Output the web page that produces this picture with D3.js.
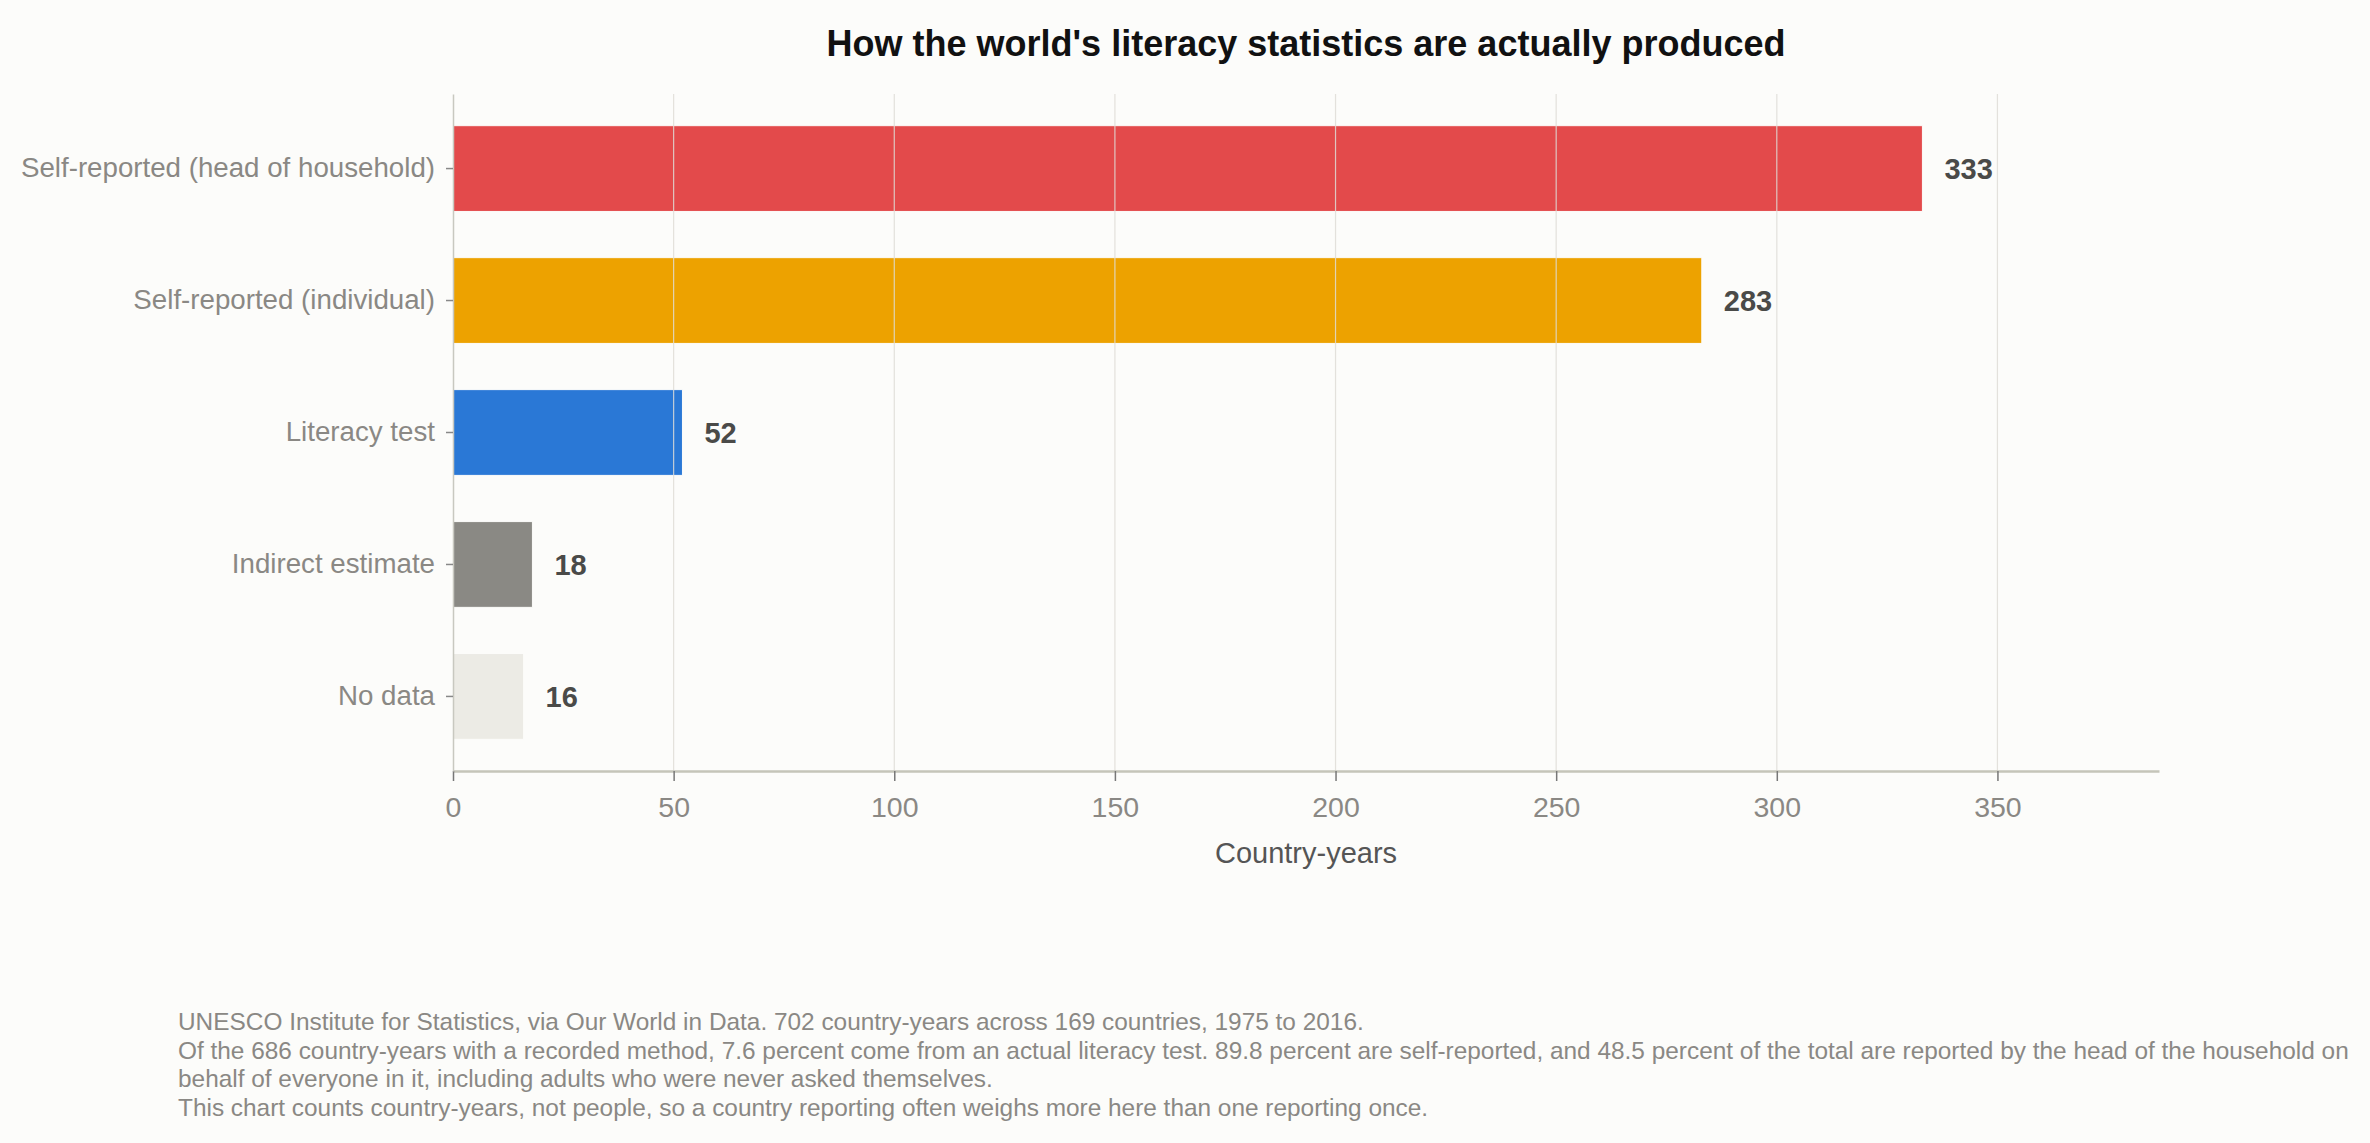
<!DOCTYPE html>
<html>
<head>
<meta charset="utf-8">
<script src="https://cdn.jsdelivr.net/npm/d3@7"></script>
<style>
  html, body { margin: 0; padding: 0; background: #fcfcfa; }
  svg { display: block; font-family: "Liberation Sans", Arial, Helvetica, sans-serif; }
</style>
</head>
<body>
<svg id="chart" width="2370" height="1143"></svg>
<script>
// data
const methods = [
    'Self-reported (head of household)',
    'Self-reported (individual)',
    'Literacy test',
    'Indirect estimate',
    'No data'
];
const countryYears = [333, 283, 52, 18, 16];
const barColors = ['#e34a4b', '#eda200', '#2a78d6', '#8a8984', '#ecebe5'];
const xTicks = [0, 50, 100, 150, 200, 250, 300, 350];

const titleText = "How the world's literacy statistics are actually produced";
const xLabel = 'Country-years';
const noteLines = [
    'UNESCO Institute for Statistics, via Our World in Data. 702 country-years across 169 countries, 1975 to 2016.',
    'Of the 686 country-years with a recorded method, 7.6 percent come from an actual literacy test. 89.8 percent are self-reported, and 48.5 percent of the total are reported by the head of the household on',
    'behalf of everyone in it, including adults who were never asked themselves.',
    'This chart counts country-years, not people, so a country reporting often weighs more here than one reporting once.'
];

const svg = d3.select('#chart');
const W = 2370, H = 1143;
const margin = { top: 94, right: 211, bottom: 372, left: 453 };
const plotW = W - margin.left - margin.right;
const plotH = H - margin.top - margin.bottom;

svg.append('rect').attr('width', W).attr('height', H).attr('fill', '#fcfcfa');

const rows = methods.map((m, i) => ({ method: m, value: countryYears[i], color: barColors[i] }));

const x = d3.scaleLinear()
    .domain([0, d3.max(countryYears) * 1.161])
    .range([0, plotW]);

const y = d3.scaleBand()
    .domain(methods)
    .range([0, plotH])
    .paddingInner(0.35)
    .paddingOuter(0.24);

const g = svg.append('g').attr('transform', `translate(${margin.left},${margin.top})`);

// bars
g.selectAll('rect.bar')
    .data(rows)
    .enter()
    .append('rect')
    .attr('class', 'bar')
    .attr('x', 0)
    .attr('y', d => y(d.method))
    .attr('width', d => x(d.value))
    .attr('height', y.bandwidth())
    .attr('fill', d => d.color)
    .attr('stroke', '#fcfcfa')
    .attr('stroke-width', 1);

// vertical gridlines, drawn over the bars
g.selectAll('line.grid')
    .data(xTicks.filter(t => t > 0))
    .enter()
    .append('line')
    .attr('class', 'grid')
    .attr('x1', d => x(d)).attr('x2', d => x(d))
    .attr('y1', 0).attr('y2', plotH)
    .attr('stroke', '#dedcd6')
    .attr('stroke-opacity', 0.85)
    .attr('stroke-width', 1.2);

// value labels
g.selectAll('text.val')
    .data(rows)
    .enter()
    .append('text')
    .attr('class', 'val')
    .attr('x', d => x(d.value) + 22)
    .attr('y', d => y(d.method) + y.bandwidth() / 2)
    .attr('dy', '0.36em')
    .attr('font-size', 29)
    .attr('font-weight', 'bold')
    .attr('fill', '#4a4a48')
    .text(d => d.value);

// x axis
const xAxis = g.append('g')
    .attr('transform', `translate(0,${plotH})`)
    .call(d3.axisBottom(x).tickValues(xTicks).tickSize(10).tickPadding(16).tickSizeOuter(0));
xAxis.select('.domain').attr('stroke', '#c5c5b9').attr('stroke-width', 2.5);
xAxis.selectAll('.tick line').attr('stroke', '#777').attr('stroke-width', 1.5);
xAxis.selectAll('.tick text')
    .attr('font-size', 28.5)
    .attr('fill', '#8a8884')
    .attr('font-family', '"Liberation Sans", Arial, sans-serif');

// y axis
const yAxis = g.append('g')
    .call(d3.axisLeft(y).tickSize(7).tickPadding(11).tickSizeOuter(0));
yAxis.select('.domain').attr('stroke', '#c8c8c0').attr('stroke-width', 1.5);
yAxis.selectAll('.tick line').attr('stroke', '#888').attr('stroke-width', 1.5);
yAxis.selectAll('.tick text')
    .attr('font-size', 27.7)
    .attr('fill', '#8a8884')
    .attr('font-family', '"Liberation Sans", Arial, sans-serif');

// axis title
g.append('text')
    .attr('x', plotW / 2)
    .attr('y', plotH + 92)
    .attr('text-anchor', 'middle')
    .attr('font-size', 29)
    .attr('fill', '#555')
    .text(xLabel);

// chart title
svg.append('text')
    .attr('x', margin.left + plotW / 2)
    .attr('y', 56)
    .attr('text-anchor', 'middle')
    .attr('font-size', 36)
    .attr('font-weight', 'bold')
    .attr('fill', '#111')
    .text(titleText);

// source / note lines
svg.append('g')
    .selectAll('text')
    .data(noteLines)
    .enter()
    .append('text')
    .attr('x', 178)
    .attr('y', (d, i) => 1030 + i * 28.7)
    .attr('font-size', 24.4)
    .attr('fill', '#8a8884')
    .text(d => d);
</script>
</body>
</html>
